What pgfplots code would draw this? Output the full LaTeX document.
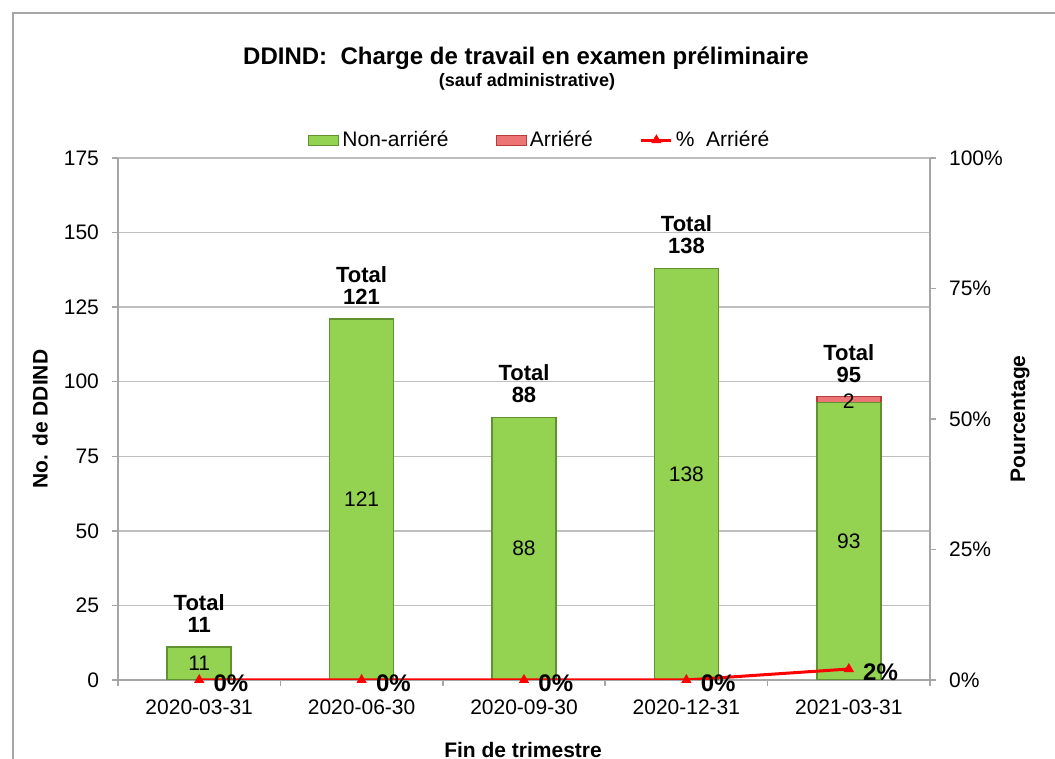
\documentclass[border=0pt]{standalone}
\usepackage{pgfplots}
\usepackage{pgfplotstable}
\pgfplotsset{compat=1.18}
\usepackage{fontspec}
\setmainfont{Liberation Sans}
\definecolor{barg}{RGB}{148,210,82}
\definecolor{bargd}{RGB}{96,146,48}
\definecolor{barr}{RGB}{236,116,116}
\definecolor{barrd}{RGB}{185,60,60}
\definecolor{axgray}{RGB}{166,166,166}
\definecolor{gridgray}{RGB}{190,190,190}
\newcommand{\fs}{\fontsize{10.5}{12.6}\selectfont}
\pgfplotsset{
  /pgf/number format/assume math mode=true,
  mybarlegend/.style={legend image code/.code={\draw[##1] (0pt,-2.5pt) rectangle (15pt,2.5pt);}},
  mylinelegend/.style={legend image code/.code={\draw[mark repeat=2, mark phase=2, ##1] plot coordinates {(0pt,0pt) (7.5pt,0pt) (15pt,0pt)};}},
}
\pgfplotstableread{
x v
0 11
1 121
2 88
3 138
4 93
}\nonarr
\pgfplotstableread{
x base v
4 93 2
}\arr
\pgfplotstableread{
x total
0 11
1 121
2 88
3 138
4 95
}\totals
\pgfplotstableread{
x p
0 0
1 0
2 0
3 0
4 2.105
}\pct
\begin{document}
\begin{tikzpicture}
\useasboundingbox (0,0) rectangle (527.5pt,379.5pt);
\begin{axis}[
  at={(59pt,39.5pt)}, anchor=south west,
  scale only axis, width=406pt, height=261pt,
  xmin=-0.5, xmax=4.5, ymin=0, ymax=175,
  axis x line*=bottom, axis y line*=left,
  axis line style={axgray, line width=0.75pt},
  xtick={-0.5,0.5,1.5,2.5,3.5,4.5},
  x tick label as interval,
  xticklabels={2020-03-31,2020-06-30,2020-09-30,2020-12-31,2021-03-31},
  xticklabel style={yshift=-3.5pt},
  ytick={0,25,50,75,100,125,150,175},
  tick align=outside, major tick length=3pt,
  tick style={axgray, line width=0.75pt},
  ymajorgrids, grid style={gridgray, line width=0.75pt},
  tick label style={font=\fs, black},
  yticklabel style={xshift=-3pt},
  xlabel={Fin de trimestre},
  ylabel={No. de DDIND},
  every axis x label/.style={at={(axis description cs:0.4988,-0.134)}, anchor=center, font=\bfseries\fs},
  every axis y label/.style={at={(axis description cs:-0.096,0.5)}, rotate=90, anchor=center, font=\bfseries\fs},
]
\addplot[ybar, bar width=32pt, bar shift=0pt, fill=barr, draw=barrd, line width=0.8pt]
  table[x=x, y expr=\thisrow{base}+\thisrow{v}] {\arr};
\addplot[ybar, bar width=32pt, bar shift=0pt, fill=barg, draw=bargd, line width=0.8pt]
  table[x=x, y=v] {\nonarr};
% labels inside bars
\addplot[draw=none, mark=none, nodes near coords, point meta=explicit,
  every node near coord/.append style={anchor=center, inner sep=0pt, font=\fs, black}]
  table[x=x, y expr=\thisrow{v}/2, meta=v] {\nonarr};
\addplot[draw=none, mark=none, nodes near coords, point meta=explicit,
  every node near coord/.append style={anchor=center, yshift=-1pt, inner sep=0pt, font=\fs, black}]
  table[x=x, y expr=\thisrow{base}+\thisrow{v}/2, meta=v] {\arr};
% totals
\addplot[draw=none, mark=none, point meta=explicit,
  nodes near coords={Total\\\pgfmathprintnumber{\pgfplotspointmeta}},
  every node near coord/.append style={align=center, anchor=south, yshift=7pt, inner sep=0pt, font=\bfseries\fontsize{11}{11}\selectfont, black}]
  table[x=x, y=total, meta=total] {\totals};
\end{axis}
\begin{axis}[
  at={(59pt,39.5pt)}, anchor=south west,
  scale only axis, width=406pt, height=261pt,
  xmin=-0.5, xmax=4.5, ymin=0, ymax=100,
  hide x axis, axis y line*=right,
  axis line style={axgray, line width=0.75pt},
  ytick={0,25,50,75,100},
  yticklabel={\pgfmathprintnumber{\tick}\%},
  tick align=outside, major tick length=3pt,
  tick style={axgray, line width=0.75pt},
  tick label style={font=\fs, black},
  yticklabel style={xshift=3pt},
  ylabel={Pourcentage},
  every axis y label/.style={at={(axis description cs:1.111,0.5)}, rotate=90, anchor=center, font=\bfseries\fs},
  legend columns=3,
  legend style={at={(axis description cs:0.52,1.034)}, anchor=center, draw=none, fill=none, font=\fs,
    inner sep=0pt, nodes={inner sep=1.5pt},
    /tikz/every even column/.append style={column sep=22pt}},
]
\addlegendimage{mybarlegend, fill=barg, draw=bargd, line width=0.6pt}
\addlegendentry{Non-arriéré}
\addlegendimage{mybarlegend, fill=barr, draw=barrd, line width=0.6pt}
\addlegendentry{Arriéré}
\addlegendimage{mylinelegend, red, line width=1.5pt, mark=triangle*, mark size=2.6pt, mark options={fill=red, draw=red, line width=0.4pt}}
\addlegendentry{\%~ Arriéré}
\addplot[forget plot, red, line width=1.5pt, mark=triangle*, mark size=2.6pt,
  mark options={fill=red, draw=red, line width=0.4pt},
  point meta=y,
  nodes near coords={\pgfmathprintnumber[fixed,precision=0]{\pgfplotspointmeta}\%},
  every node near coord/.append style={anchor=west, xshift=7pt, yshift=-1.5pt, inner sep=0pt, font=\bfseries\fontsize{12}{14}\selectfont, black}]
  table[x=x, y=p] {\pct};
\end{axis}
\node[font=\bfseries\fontsize{12}{14}\selectfont] at (263pt,350.5pt) {DDIND:~ Charge de travail en examen préliminaire};
\node[font=\bfseries\fontsize{9}{11}\selectfont] at (263.5pt,338.5pt) {(sauf administrative)};
\draw[axgray, line width=0.75pt] (6.5pt,-5pt) -- (6.5pt,373pt) -- (540pt,373pt);
\end{tikzpicture}
\end{document}
